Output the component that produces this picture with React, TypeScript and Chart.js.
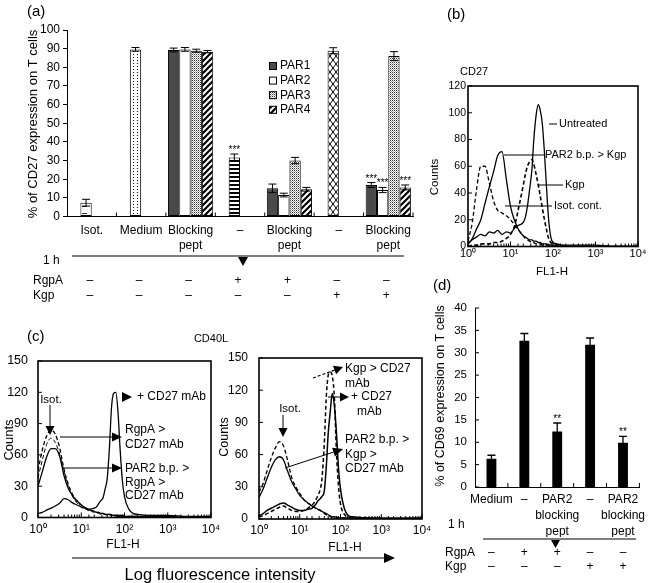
import React, { useEffect, useRef } from "react";
import { Chart, registerables } from "chart.js";

Chart.register(...registerables);

const FONT = "'Liberation Sans', Arial, Helvetica, sans-serif";
Chart.defaults.font.family = FONT;
Chart.defaults.color = "#000";

const W = 650;
const H = 583;

// ---------------- Panel (a): % CD27 expression ----------------
const A_CATEGORIES = [["Isot."], ["Medium"], ["Blocking", "pept"], ["–"], ["Blocking", "pept"], ["–"], ["Blocking", "pept"]];
const A_SERIES = ["PAR1", "PAR2", "PAR3", "PAR4"];
const A_PAR1 = [null, null, 89.3, null, 15.1, null, 16.9];
const A_PAR2 = [7.4, 89.6, 89.6, 31.7, 11.5, 88.9, 14.2];
const A_PAR3 = [null, null, 88.9, null, 30.0, null, 86.0];
const A_PAR4 = [null, null, 88.4, null, 14.6, null, 15.6];
const A_PAR1_ERR = [0, 0, 1.0, 0, 2.3, 0, 1.3];
const A_PAR2_ERR = [1.8, 1.0, 1.0, 1.8, 1.0, 1.6, 1.4];
const A_PAR3_ERR = [0, 0, 0.8, 0, 1.7, 0, 2.4];
const A_PAR4_ERR = [0, 0, 0.6, 0, 1.0, 0, 1.3];
const A_PAR1_SIG = ["", "", "", "", "", "", "***"];
const A_PAR2_SIG = ["", "", "", "***", "", "", "***"];
const A_PAR3_SIG = ["", "", "", "", "", "", ""];
const A_PAR4_SIG = ["", "", "", "", "", "", "***"];
const A_RGPA = ["–", "–", "–", "+", "+", "–", "–"];
const A_KGP = ["–", "–", "–", "–", "–", "+", "+"];
const A_Y_MAX = 100;
const A_Y_STEP = 10;

// ---------------- Flow cytometry histograms (FL1-H channel grid) ----------------
const FL = [1, 1.26, 1.58, 2, 2.5, 3.2, 4, 5, 6.3, 8, 10, 12.6, 15.8, 20, 22.4, 25, 28, 32, 35, 40, 45, 50, 56, 63, 71, 79, 89, 100, 126, 158, 200, 400, 1000, 3000, 10000];
const LOG_TICKS = ["10⁰", "10¹", "10²", "10³", "10⁴"];

// (b) CD27
const B_UNTREATED = [2, 5, 7, 9, 8, 11, 10, 12, 9, 11, 10, 14, 16, 18, 22, 30, 42, 58, 78, 98, 106, 102, 92, 70, 42, 20, 7, 3, 2, 1, 1, 1, 1, 0, 0];
const B_PAR2BP_KGP = [2, 6, 13, 20, 32, 45, 56, 68, 71, 50, 30, 19, 12, 8, 7, 6, 5, 5, 4, 4, 3, 3, 2, 2, 2, 1, 1, 1, 1, 1, 0, 0, 0, 0, 0];
const B_ISOT = [4, 18, 42, 60, 60, 47, 34, 27, 25, 23, 20, 16, 12, 8, 6, 5, 4, 3, 3, 2, 2, 2, 1, 1, 1, 1, 1, 0, 0, 0, 0, 0, 0, 0, 0];
const B_KGP = [0, 1, 1, 2, 2, 2, 3, 3, 4, 6, 9, 16, 30, 46, 54, 60, 63, 65, 62, 54, 46, 38, 29, 20, 12, 6, 3, 2, 1, 0, 0, 0, 0, 0, 0];

// (c) CD40L, left
const CL_CD27 = [4, 5, 7, 9, 11, 14, 18, 17, 14, 12, 10, 9, 8, 9, 10, 13, 16, 19, 26, 38, 68, 105, 119, 120, 100, 66, 36, 20, 8, 4, 3, 2, 2, 1, 1];
const CL_RGPA_CD27 = [45, 65, 78, 84, 80, 66, 46, 32, 22, 15, 12, 9, 7, 6, 5, 5, 4, 4, 3, 3, 3, 3, 2, 2, 2, 2, 2, 2, 1, 1, 1, 1, 1, 0, 0];
const CL_PAR2_RGPA_CD27 = [30, 44, 58, 66, 66, 58, 40, 28, 21, 16, 12, 9, 7, 6, 5, 5, 4, 4, 3, 3, 3, 2, 2, 2, 2, 2, 1, 1, 1, 1, 1, 1, 1, 0, 0];
const CL_ISOT = [38, 55, 70, 76, 72, 60, 44, 30, 20, 14, 10, 8, 6, 5, 4, 4, 3, 3, 3, 2, 2, 2, 2, 1, 1, 1, 1, 1, 1, 1, 1, 0, 0, 0, 0];

// (c) CD40L, right
const CR_KGP_CD27 = [2, 3, 5, 7, 9, 11, 12, 10, 8, 7, 7, 8, 10, 13, 15, 18, 22, 28, 37, 70, 115, 134, 137, 133, 112, 65, 31, 14, 4, 2, 1, 1, 0, 0, 0];
const CR_CD27 = [3, 5, 8, 10, 12, 14, 15, 13, 11, 9, 8, 8, 9, 10, 12, 14, 17, 19, 21, 26, 50, 80, 100, 117, 105, 82, 48, 28, 9, 3, 2, 1, 1, 1, 1];
const CR_ISOT = [25, 33, 45, 57, 66, 72, 68, 55, 39, 30, 24, 18, 15, 12, 11, 10, 9, 8, 7, 5, 4, 3, 2, 2, 1, 1, 1, 1, 1, 0, 0, 0, 0, 0, 0];
const CR_PAR2_KGP_CD27 = [20, 28, 38, 48, 55, 58, 55, 45, 35, 28, 22, 18, 15, 12, 11, 10, 9, 8, 7, 6, 5, 4, 3, 2, 2, 2, 1, 1, 1, 1, 1, 1, 0, 0, 0];

// ---------------- Panel (d): % CD69 expression ----------------
const D_CATEGORIES = [["Medium"], ["–"], ["PAR2", "blocking", "pept"], ["–"], ["PAR2", "blocking", "pept"]];
const D_CD69 = [6.3, 32.7, 12.4, 31.8, 9.9];
const D_CD69_ERR = [0.8, 1.6, 1.9, 1.5, 1.4];
const D_SIG = ["", "", "**", "", "**"];
const D_RGPA = ["–", "+", "+", "–", "–"];
const D_KGP = ["–", "–", "–", "+", "+"];

// ---------------- drawing helpers ----------------
type Pt = [number, number];

function txt(ctx: CanvasRenderingContext2D, s: string, x: number, y: number, size: number, align: CanvasTextAlign = "left") {
  ctx.save();
  ctx.font = `${size}px ${FONT}`;
  ctx.fillStyle = "#000";
  ctx.textAlign = align;
  ctx.textBaseline = "middle";
  ctx.fillText(s, x, y);
  ctx.restore();
}
function vtxt(ctx: CanvasRenderingContext2D, s: string, cx: number, cy: number, size: number) {
  ctx.save();
  ctx.translate(cx, cy);
  ctx.rotate(-Math.PI / 2);
  txt(ctx, s, 0, 0, size, "center");
  ctx.restore();
}
function seg(ctx: CanvasRenderingContext2D, x1: number, y1: number, x2: number, y2: number, w = 1, dash: number[] = []) {
  ctx.save();
  ctx.strokeStyle = "#000";
  ctx.lineWidth = w;
  ctx.setLineDash(dash);
  ctx.beginPath();
  ctx.moveTo(x1, y1);
  ctx.lineTo(x2, y2);
  ctx.stroke();
  ctx.restore();
}
function poly(ctx: CanvasRenderingContext2D, pts: Pt[]) {
  ctx.save();
  ctx.fillStyle = "#000";
  ctx.beginPath();
  pts.forEach(([x, y], i) => (i ? ctx.lineTo(x, y) : ctx.moveTo(x, y)));
  ctx.closePath();
  ctx.fill();
  ctx.restore();
}
function arrow(ctx: CanvasRenderingContext2D, x1: number, y1: number, x2: number, y2: number, head = 10, half = 4.5, w = 1, dash: number[] = []) {
  const a = Math.atan2(y2 - y1, x2 - x1);
  const bx = x2 - head * Math.cos(a);
  const by = y2 - head * Math.sin(a);
  seg(ctx, x1, y1, bx, by, w, dash);
  const nx = -Math.sin(a) * half;
  const ny = Math.cos(a) * half;
  poly(ctx, [[x2, y2], [bx + nx, by + ny], [bx - nx, by - ny]]);
}
function catTicks(ctx: CanvasRenderingContext2D, chart: any, len: number) {
  const xs = chart.scales.x;
  const n = chart.data.labels.length;
  const b = chart.chartArea.bottom;
  for (let k = 1; k <= n; k++) {
    const p = xs.left + (xs.width * k) / n;
    seg(ctx, p, b, p, b - len, 1);
  }
}
function frameAndTicks(ctx: CanvasRenderingContext2D, chart: any) {
  const { left, right, top, bottom } = chart.chartArea;
  ctx.save();
  ctx.strokeStyle = "#000";
  ctx.lineWidth = 1.6;
  ctx.strokeRect(left, top, right - left, bottom - top);
  ctx.restore();
  const ys = chart.scales.y;
  ys.ticks.forEach((t: any) => {
    const p = ys.getPixelForValue(t.value);
    seg(ctx, left, p, left + 4, p, 1);
  });
  const xs = chart.scales.x;
  xs.ticks.forEach((t: any) => {
    const p = xs.getPixelForValue(t.value);
    const lg = Math.log10(t.value);
    const major = Math.abs(lg - Math.round(lg)) < 1e-6;
    seg(ctx, p, bottom, p, bottom - (major ? 5 : 3), 1);
  });
}

const errorBarPlugin = {
  id: "errorBars",
  afterDatasetsDraw(chart: any) {
    const ctx = chart.ctx as CanvasRenderingContext2D;
    const ys = chart.scales.y;
    chart.data.datasets.forEach((ds: any, di: number) => {
      if (!ds.errors) return;
      const meta = chart.getDatasetMeta(di);
      meta.data.forEach((el: any, i: number) => {
        const v = ds.data[i];
        if (v == null) return;
        const e = ds.errors[i] || 0;
        const x = el.x;
        const yt = ys.getPixelForValue(v + e);
        const yb = ys.getPixelForValue(v - e);
        const cw = ds.capWidth;
        ctx.save();
        ctx.strokeStyle = "#000";
        ctx.lineWidth = ds.errWidth;
        ctx.beginPath();
        ctx.moveTo(x, yt);
        ctx.lineTo(x, yb);
        ctx.moveTo(x - cw / 2, yt);
        ctx.lineTo(x + cw / 2, yt);
        ctx.moveTo(x - cw / 2, yb);
        ctx.lineTo(x + cw / 2, yb);
        ctx.stroke();
        if (ds.sig && ds.sig[i]) {
          ctx.font = `${ds.sigSize}px ${FONT}`;
          ctx.textAlign = "center";
          ctx.textBaseline = "alphabetic";
          ctx.fillStyle = "#000";
          ctx.fillText(ds.sig[i], x, yt - 1);
        }
        ctx.restore();
      });
    });
  },
};

function decor(draw: (ctx: CanvasRenderingContext2D, chart: any) => void) {
  return {
    id: "decor",
    afterDraw(chart: any) {
      draw(chart.ctx, chart);
    },
  };
}

function makePatterns() {
  const mk = (w: number, h: number, draw: (x: CanvasRenderingContext2D) => void) => {
    const c = document.createElement("canvas");
    c.width = w;
    c.height = h;
    const x = c.getContext("2d")!;
    x.fillStyle = "#fff";
    x.fillRect(0, 0, w, h);
    draw(x);
    return x.createPattern(c, "repeat")!;
  };
  return {
    dots: mk(2, 2, (x) => {
      x.fillStyle = "#333";
      x.fillRect(0, 0, 1, 1);
      x.fillStyle = "#aaa";
      x.fillRect(1, 1, 1, 1);
    }),
    diag: mk(6, 6, (x) => {
      x.strokeStyle = "#000";
      x.lineWidth = 2.2;
      x.beginPath();
      x.moveTo(-1, 7);
      x.lineTo(7, -1);
      x.moveTo(-1, 1);
      x.lineTo(1, -1);
      x.moveTo(5, 7);
      x.lineTo(7, 5);
      x.stroke();
    }),
    hstripe: mk(4, 4, (x) => {
      x.fillStyle = "#000";
      x.fillRect(0, 0, 4, 2);
    }),
    cross: mk(6, 8, (x) => {
      x.strokeStyle = "#000";
      x.lineWidth = 1;
      x.beginPath();
      x.moveTo(0, 0);
      x.lineTo(6, 8);
      x.moveTo(6, 0);
      x.lineTo(0, 8);
      x.stroke();
    }),
    medium: mk(4, 3, (x) => {
      x.fillStyle = "#000";
      x.fillRect(1, 0, 1, 1);
    }),
    isot: mk(10, 7, (x) => {
      x.fillStyle = "#333";
      x.fillRect(2, 3, 5, 1);
    }),
  };
}

const commonOpts = {
  responsive: false,
  animation: false,
  devicePixelRatio: 1,
  events: [],
  plugins: { legend: { display: false }, tooltip: { enabled: false } },
};

// ---------------- chart configs ----------------
function makeA(): any {
  const P = makePatterns();
  const par2Fill = [P.isot, P.medium, "#fff", P.hstripe, "#fff", P.cross, "#fff"];
  const base = { borderColor: "#000", borderWidth: 1, borderSkipped: false, capWidth: 8, errWidth: 1, sigSize: 10 };
  return {
    type: "bar",
    data: {
      labels: A_CATEGORIES,
      datasets: [
        { ...base, label: A_SERIES[0], data: A_PAR1, errors: A_PAR1_ERR, sig: A_PAR1_SIG, backgroundColor: "#4a4a4a", legendFill: "#4a4a4a" },
        { ...base, label: A_SERIES[1], data: A_PAR2, errors: A_PAR2_ERR, sig: A_PAR2_SIG, backgroundColor: par2Fill, legendFill: "#fff" },
        { ...base, label: A_SERIES[2], data: A_PAR3, errors: A_PAR3_ERR, sig: A_PAR3_SIG, backgroundColor: P.dots, legendFill: P.dots },
        { ...base, label: A_SERIES[3], data: A_PAR4, errors: A_PAR4_ERR, sig: A_PAR4_SIG, backgroundColor: P.diag, legendFill: P.diag },
      ],
    },
    options: {
      ...commonOpts,
      layout: { padding: { left: 0, top: 30, right: 237, bottom: 326.5 } },
      datasets: { bar: { categoryPercentage: 0.915, barPercentage: 1 } },
      scales: {
        x: {
          grid: { display: false, drawTicks: false },
          border: { display: true, color: "#000", width: 1 },
          ticks: { font: { size: 12, lineHeight: 1.25 }, color: "#000", padding: 7, maxRotation: 0, minRotation: 0, autoSkip: false },
          afterFit: (s: any) => { s.height = 40; },
        },
        y: {
          min: 0,
          max: A_Y_MAX,
          ticks: { stepSize: A_Y_STEP, font: { size: 12 }, color: "#000", padding: 3 },
          grid: { display: true, drawOnChartArea: false, drawTicks: true, tickLength: 4, color: "#000" },
          border: { display: true, color: "#000", width: 1 },
          afterFit: (s: any) => { s.width = 67; },
        },
      },
    },
    plugins: [
      errorBarPlugin,
      decor((ctx, chart) => {
        txt(ctx, "(a)", 27, 12, 15);
        vtxt(ctx, "% of CD27 expression on T cells", 33, 124, 13);
        chart.data.datasets.forEach((ds: any, i: number) => {
          const y = 66 + i * 14.6;
          ctx.save();
          ctx.fillStyle = ds.legendFill;
          ctx.fillRect(269, y - 3.5, 7, 7);
          ctx.strokeStyle = "#000";
          ctx.lineWidth = 1;
          ctx.strokeRect(269.5, y - 3.5, 7, 7);
          ctx.restore();
          txt(ctx, ds.label, 280, y, 12);
        });
        catTicks(ctx, chart, 4);
        txt(ctx, "1 h", 43, 261, 12);
        seg(ctx, 72, 256, 404, 256, 1.2);
        poly(ctx, [[238, 257], [248, 257], [243, 266]]);
        txt(ctx, "RgpA", 33, 281, 12);
        txt(ctx, "Kgp", 33, 296, 12);
        const xs = chart.scales.x;
        A_RGPA.forEach((s, i) => txt(ctx, s, xs.getPixelForValue(i) - 2, 281, 12, "center"));
        A_KGP.forEach((s, i) => txt(ctx, s, xs.getPixelForValue(i) - 2, 296, 12, "center"));
      }),
    ],
  };
}

function histLine(ys: number[], dashed: boolean, width = 1.3) {
  return {
    data: FL.map((x, i) => ({ x, y: ys[i] })),
    showLine: true,
    borderColor: "#000",
    borderWidth: width,
    borderDash: dashed ? [4, 2.5] : [],
    pointRadius: 0,
    cubicInterpolationMode: "monotone",
  };
}

function histScales(yMax: number, yStep: number, yFont: number, yPad: number, yWidth: number, xFont: number, xPad: number, xHeight: number) {
  return {
    x: {
      type: "logarithmic",
      min: 1,
      max: 10000,
      grid: { display: false, drawTicks: false },
      border: { display: false },
      ticks: {
        font: { size: xFont },
        color: "#000",
        padding: xPad,
        autoSkip: false,
        maxRotation: 0,
        minRotation: 0,
        callback: (v: any) => {
          const lg = Math.log10(Number(v));
          return Math.abs(lg - Math.round(lg)) < 1e-6 ? LOG_TICKS[Math.round(lg)] : "";
        },
      },
      afterFit: (s: any) => { s.height = xHeight; },
    },
    y: {
      min: 0,
      max: yMax,
      grid: { display: false, drawTicks: false },
      border: { display: false },
      ticks: { stepSize: yStep, font: { size: yFont }, color: "#000", padding: yPad },
      afterFit: (s: any) => { s.width = yWidth; },
    },
  };
}

function makeB(): any {
  return {
    type: "scatter",
    data: {
      datasets: [
        { label: "Untreated", ...histLine(B_UNTREATED, false) },
        { label: "PAR2 b.p. > Kgp", ...histLine(B_PAR2BP_KGP, false) },
        { label: "Isot. cont.", ...histLine(B_ISOT, true) },
        { label: "Kgp", ...histLine(B_KGP, true, 1.6) },
      ],
    },
    options: {
      ...commonOpts,
      layout: { padding: { left: 420, top: 86, right: 12, bottom: 318.5 } },
      scales: histScales(120, 20, 10.5, 2, 48, 11, 1, 18),
    },
    plugins: [
      decor((ctx, chart) => {
        txt(ctx, "(b)", 447, 15, 15);
        txt(ctx, "CD27", 460, 72, 11);
        vtxt(ctx, "Counts", 435, 177, 11.5);
        txt(ctx, "FL1-H", 552, 272, 11.5, "center");
        frameAndTicks(ctx, chart);
        seg(ctx, 549, 124, 557, 124);
        txt(ctx, "Untreated", 559, 124, 11);
        seg(ctx, 504, 155, 544, 155);
        txt(ctx, "PAR2 b.p. > Kgp", 545, 155, 11);
        seg(ctx, 538, 185, 563, 185);
        txt(ctx, "Kgp", 565, 185, 11);
        seg(ctx, 505, 206, 552, 206);
        txt(ctx, "Isot. cont.", 554, 206, 11);
      }),
    ],
  };
}

function makeCL(): any {
  return {
    type: "scatter",
    data: {
      datasets: [
        { label: "+ CD27 mAb", ...histLine(CL_CD27, false) },
        { label: "RgpA > CD27 mAb", ...histLine(CL_RGPA_CD27, true) },
        { label: "PAR2 b.p. > RgpA > CD27 mAb", ...histLine(CL_PAR2_RGPA_CD27, false) },
        { label: "Isot.", ...histLine(CL_ISOT, true, 1) },
      ],
    },
    options: {
      ...commonOpts,
      layout: { padding: { left: 0, top: 361, right: 439, bottom: 45.5 } },
      scales: histScales(150, 30, 12.5, 10, 38, 12, 4.5, 20),
    },
    plugins: [
      decor((ctx, chart) => {
        txt(ctx, "(c)", 27, 337, 15);
        txt(ctx, "CD40L", 211, 339, 11, "center");
        vtxt(ctx, "Counts", 9, 440, 13);
        txt(ctx, "FL1-H", 123, 545, 12, "center");
        frameAndTicks(ctx, chart);
        txt(ctx, "Isot.", 51, 400, 11.5, "center");
        arrow(ctx, 50, 405, 50, 435, 9, 4.5);
        poly(ctx, [[122, 392], [122, 402], [132, 397]]);
        txt(ctx, "+ CD27 mAb", 137, 397, 12);
        arrow(ctx, 60, 437, 122, 437);
        txt(ctx, "RgpA >", 125, 430, 12);
        txt(ctx, "CD27 mAb", 125, 445, 12);
        arrow(ctx, 63, 468, 122, 468);
        txt(ctx, "PAR2 b.p. >", 125, 469, 12);
        txt(ctx, "RgpA >", 125, 483, 12);
        txt(ctx, "CD27 mAb", 125, 496, 12);
        txt(ctx, "Log fluorescence intensity", 220, 575, 16.5, "center");
        arrow(ctx, 72, 558, 395, 558, 11, 5, 1.2);
      }),
    ],
  };
}

function makeCR(): any {
  return {
    type: "scatter",
    data: {
      datasets: [
        { label: "Kgp > CD27 mAb", ...histLine(CR_KGP_CD27, true, 1.5) },
        { label: "+ CD27 mAb", ...histLine(CR_CD27, false, 1.5) },
        { label: "Isot.", ...histLine(CR_ISOT, true) },
        { label: "PAR2 b.p. > Kgp > CD27 mAb", ...histLine(CR_PAR2_KGP_CD27, false) },
      ],
    },
    options: {
      ...commonOpts,
      layout: { padding: { left: 215, top: 358, right: 228, bottom: 44 } },
      scales: histScales(150, 30, 12, 11, 44, 12, 4.5, 20),
    },
    plugins: [
      decor((ctx, chart) => {
        vtxt(ctx, "Counts", 225, 437, 12.5);
        txt(ctx, "FL1-H", 345, 548, 12, "center");
        frameAndTicks(ctx, chart);
        txt(ctx, "Isot.", 290, 409, 11.5, "center");
        arrow(ctx, 283, 415, 283, 437, 9, 4.5);
        arrow(ctx, 313, 378, 343, 367, 9, 4.5, 1.2, [3, 2]);
        txt(ctx, "Kgp > CD27", 345, 369, 12);
        txt(ctx, "mAb", 345, 384, 12);
        arrow(ctx, 328, 397, 349, 397, 9, 4.5);
        txt(ctx, "+ CD27", 351, 397, 12);
        txt(ctx, "mAb", 357, 412, 12);
        arrow(ctx, 285, 468, 343, 449, 10, 4.5);
        txt(ctx, "PAR2 b.p. >", 345, 440, 12);
        txt(ctx, "Kgp >", 345, 455, 12);
        txt(ctx, "CD27 mAb", 345, 469, 12);
      }),
    ],
  };
}

function makeD(): any {
  return {
    type: "bar",
    data: {
      labels: D_CATEGORIES,
      datasets: [
        {
          label: "CD69",
          data: D_CD69,
          errors: D_CD69_ERR,
          sig: D_SIG,
          backgroundColor: "#000",
          borderWidth: 0,
          capWidth: 8,
          errWidth: 1.3,
          sigSize: 10,
        },
      ],
    },
    options: {
      ...commonOpts,
      layout: { padding: { left: 425, top: 308, right: 5, bottom: 46 } },
      datasets: { bar: { categoryPercentage: 1, barPercentage: 0.3 } },
      scales: {
        x: {
          grid: { display: false, drawTicks: false },
          border: { display: true, color: "#000", width: 1 },
          ticks: { font: { size: 12, lineHeight: 1.35 }, color: "#000", padding: 4.5, maxRotation: 0, minRotation: 0, autoSkip: false },
          afterFit: (s: any) => { s.height = 50; },
        },
        y: {
          min: 0,
          max: 40,
          ticks: { stepSize: 5, font: { size: 11.5 }, color: "#000", padding: 8 },
          grid: { display: false, drawTicks: false },
          border: { display: true, color: "#000", width: 1 },
          afterFit: (s: any) => { s.width = 50; },
        },
      },
    },
    plugins: [
      errorBarPlugin,
      decor((ctx, chart) => {
        txt(ctx, "(d)", 433, 286, 15);
        vtxt(ctx, "% of CD69 expression on T cells", 441, 396, 12.5);
        const ys = chart.scales.y;
        const left = chart.chartArea.left;
        ys.ticks.forEach((t: any) => {
          const p = ys.getPixelForValue(t.value);
          seg(ctx, left, p, left + 4, p, 1);
        });
        catTicks(ctx, chart, 4);
        txt(ctx, "1 h", 448, 525, 12);
        seg(ctx, 483, 539, 636, 539, 1.2);
        poly(ctx, [[551, 540], [560, 540], [555.5, 548]]);
        txt(ctx, "RgpA", 445, 553, 12);
        txt(ctx, "Kgp", 445, 567, 12);
        const xs = chart.scales.x;
        D_RGPA.forEach((s, i) => txt(ctx, s, xs.getPixelForValue(i), 553, 12, "center"));
        D_KGP.forEach((s, i) => txt(ctx, s, xs.getPixelForValue(i), 567, 12, "center"));
      }),
    ],
  };
}

function ChartLayer({ make }: { make: () => any }) {
  const ref = useRef<HTMLCanvasElement | null>(null);
  useEffect(() => {
    if (!ref.current) return;
    const chart = new Chart(ref.current, make());
    return () => chart.destroy();
  }, [make]);
  return (
    <canvas
      ref={ref}
      width={W}
      height={H}
      style={{ position: "absolute", left: 0, top: 0, width: W, height: H }}
    />
  );
}

export default function App() {
  return (
    <div style={{ position: "fixed", left: 0, top: 0, width: W, height: H, background: "#fff", overflow: "hidden" }}>
      <ChartLayer make={makeA} />
      <ChartLayer make={makeB} />
      <ChartLayer make={makeCL} />
      <ChartLayer make={makeCR} />
      <ChartLayer make={makeD} />
    </div>
  );
}
